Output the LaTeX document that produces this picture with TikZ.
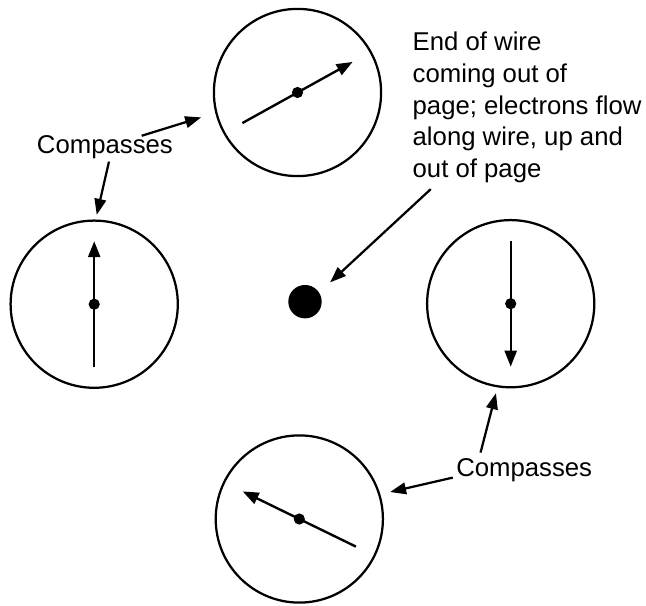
\documentclass[tikz,border=0pt]{standalone}
\usepackage{fontspec}
\setmainfont{Liberation Sans}
\usetikzlibrary{arrows.meta,calc,positioning}
\tikzset{
  compass/.style={
    shape = circle,
    draw,
    line width = 1.6pt,
    minimum size = 4.18cm,
    inner sep = 0pt
  },
  pivot/.style={
    shape = circle,
    fill,
    minimum size = 0.28cm,
    inner sep = 0pt
  },
  wire/.style={
    shape = circle,
    fill,
    minimum size = 0.835cm,
    inner sep = 0pt
  },
  needle/.style={
    line width = 1.7pt,
    -{Triangle[length=0.4cm,width=0.3cm]}
  },
  pointer/.style={
    line width = 1.6pt,
    -{Triangle[length=0.4cm,width=0.29cm]}
  },
  lbltext/.style={
    font = \fontsize{18.3pt}{22.55pt}\selectfont,
    inner sep = 0pt
  }
}

\begin{document}
\begin{tikzpicture}
    \useasboundingbox (0,0) rectangle (16.15,15.125);

    \node[compass] (cT) at (7.4375,12.8125) {};
    \node[compass] (cL) at (2.355,7.52) {};
    \node[compass] (cR) at (12.7675,7.5325) {};
    \node[compass] (cB) at (7.4825,2.15) {};

    \draw[needle] (cT.center) ++(209:1.575) -- ++(29:3.15);
    \draw[needle] (cL.center) ++(270:1.575) -- ++(90:3.15);
    \draw[needle] (cR.center) ++(90:1.575) -- ++(270:3.15);
    \draw[needle] (cB.center) ++(334:1.575) -- ++(154:3.15);

    \node[pivot] (pT) at (cT.center) {};
    \node[pivot] (pL) at (cL.center) {};
    \node[pivot] (pR) at (cR.center) {};
    \node[pivot] (pB) at (cB.center) {};

    \node[wire] (wire) at (7.625,7.583) {};

    \node[lbltext, anchor=base west] (lblL) at (0.9175,11.275) {Compasses};
    \node[lbltext, anchor=base west] (lblR) at (11.4,3.225) {Compasses};
    \node[lbltext, anchor=north west, align=left] (txt) at (10.31,14.33)
        {End of wire\\coming out of\\page; electrons flow\\along wire, up and\\out of page};

    \draw[pointer, shorten >=0.37cm] ($(lblL.north west)!0.77!(lblL.north east)$) -- (cT.194);
    \draw[pointer, shorten >=0.12cm] ($(lblL.south west)!0.53!(lblL.south east)+(0,-0.05)$) -- (cL.89);
    \draw[pointer, shorten >=0.37cm] ($(txt.south west)!0.08!(txt.south east)+(0,-0.15)$) -- (wire.33);
    \draw[pointer, shorten >=0.15cm] ($(lblR.north west)!0.18!(lblR.north east)+(0,0.13)$) -- (cR.261);
    \draw[pointer, shorten >=0.25cm] ([xshift=-0.08cm,yshift=-0.04cm]lblR.base west) -- (cB.17);
\end{tikzpicture}
\end{document}
